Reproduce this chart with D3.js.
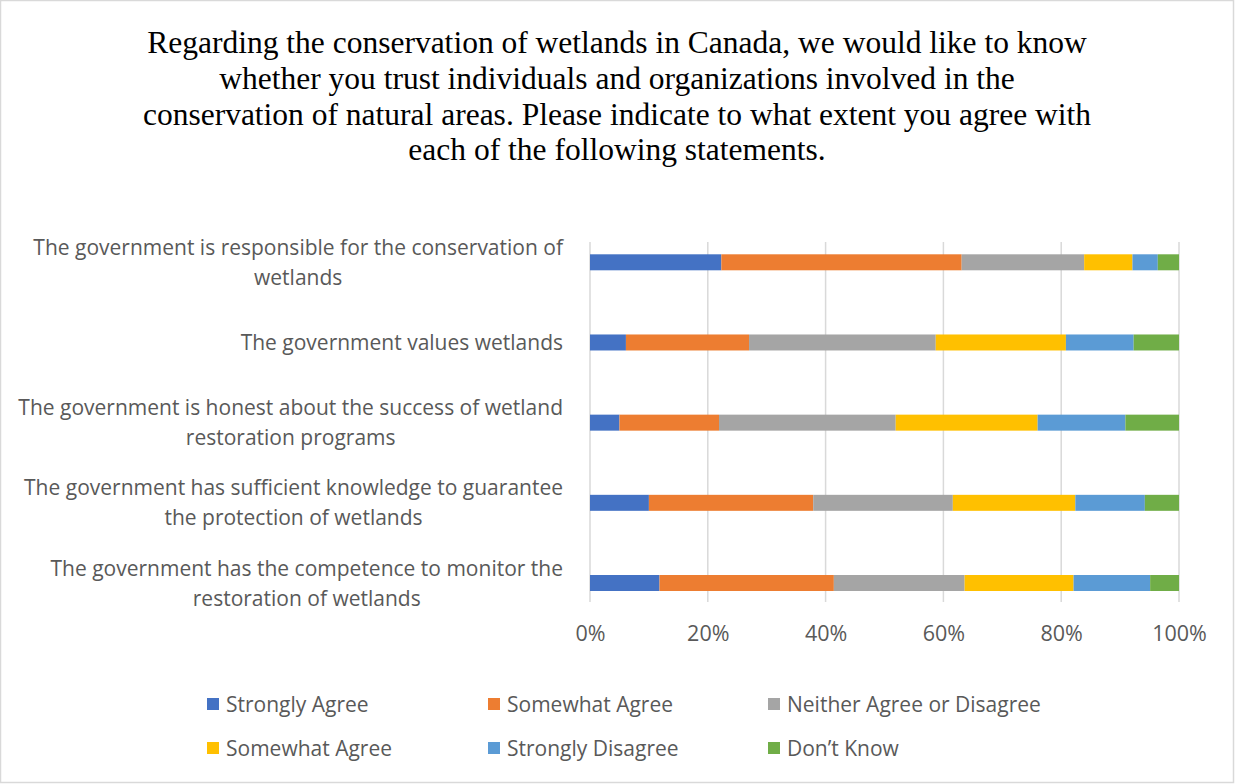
<!DOCTYPE html>
<html>
<head>
<meta charset="utf-8">
<script src="https://cdn.jsdelivr.net/npm/d3@7"></script>
<style>
  html, body { margin: 0; padding: 0; background: #fff; }
  svg { display: block; }
</style>
</head>
<body>
<div id="chart"></div>
<script>
// Statements (top to bottom), each split into its display lines
const statements = [
  ["The government is responsible for the conservation of", "wetlands"],
  ["The government values wetlands"],
  ["The government is honest about the success of wetland", "restoration programs"],
  ["The government has sufficient knowledge to guarantee", "the protection of wetlands"],
  ["The government has the competence to monitor the", "restoration of wetlands"]
];

// Response categories, in stacking order
const responses = ["Strongly Agree", "Somewhat Agree", "Neither Agree or Disagree",
                   "Somewhat Agree", "Strongly Disagree", "Don\u2019t Know"];

// Share of respondents (%) per response, one array per response, statement order as above
const stronglyAgree    = [22.3,  6.1,  5.0, 10.0, 11.8];
const somewhatAgree    = [40.8, 20.9, 16.9, 27.9, 29.6];
const neither          = [20.8, 31.7, 30.0, 23.7, 22.2];
const somewhatAgree2   = [ 8.2, 22.1, 24.1, 20.8, 18.5];
const stronglyDisagree = [ 4.3, 11.5, 14.9, 11.8, 13.0];
const dontKnow         = [ 3.6,  7.7,  9.1,  5.8,  4.9];

const xTicks = [0, 20, 40, 60, 80, 100];

const titleLines = [
  "Regarding the conservation of wetlands in Canada, we would like to know",
  "whether you trust individuals and organizations involved in the",
  "conservation of natural areas. Please indicate to what extent you agree with",
  "each of the following statements."
];

const colors = ["#4472C4", "#ED7D31", "#A5A5A5", "#FFC000", "#5B9BD5", "#70AD47"];

const W = 1235, H = 784;
const svg = d3.select("#chart").append("svg").attr("width", W).attr("height", H);

// outer frame
svg.append("rect").attr("x", 0.5).attr("y", 0.5).attr("width", W - 2).attr("height", H - 2)
  .attr("fill", "#fff").attr("stroke", "#D9D9D9").attr("stroke-width", 1.5);

// title
svg.append("g").selectAll("text").data(titleLines).join("text")
  .attr("x", 617).attr("y", (d, i) => 53 + i * 35.8)
  .attr("text-anchor", "middle")
  .style("font-family", "'Liberation Serif', 'Times New Roman', serif")
  .style("font-size", "31.5px").style("fill", "#000")
  .text(d => d);

// build stacked data
const seriesArrays = [stronglyAgree, somewhatAgree, neither, somewhatAgree2, stronglyDisagree, dontKnow];
const rows = statements.map((s, i) => {
  const r = { id: i };
  seriesArrays.forEach((arr, k) => { r["k" + k] = arr[i]; });
  return r;
});
const keys = seriesArrays.map((_, k) => "k" + k);
const stacked = d3.stack().keys(keys)(rows);

const plotTop = 242, plotBottom = 602;
const x = d3.scaleLinear().domain([0, 100]).range([590, 1179]);
const y = d3.scalePoint().domain(d3.range(statements.length)).range([262.3, 583]);
const barH = 16;

// vertical gridlines
svg.append("g").selectAll("line").data(xTicks).join("line")
  .attr("x1", d => x(d)).attr("x2", d => x(d))
  .attr("y1", plotTop).attr("y2", plotBottom)
  .attr("stroke", "#D9D9D9").attr("stroke-width", 1.5);

// bars
svg.append("g").selectAll("g").data(stacked).join("g")
  .attr("fill", (d, i) => colors[i])
  .selectAll("rect").data(d => d).join("rect")
  .attr("x", d => x(d[0]))
  .attr("width", d => x(d[1]) - x(d[0]))
  .attr("y", d => y(d.data.id) - barH / 2)
  .attr("height", barH);

const labelFont = "'Open Sans', 'Noto Sans', sans-serif";

// x axis tick labels
const xAxis = d3.axisBottom(x).tickValues(xTicks).tickFormat(d => d + "%").tickSize(0).tickPadding(0);
const gx = svg.append("g").attr("transform", `translate(0, ${plotBottom + 24})`).call(xAxis);
gx.select(".domain").remove();
gx.selectAll("text")
  .style("font-family", labelFont)
  .style("font-size", "21.5px").style("fill", "#595959");

// category labels: centred block, right edge aligned to the axis
const labelG = svg.append("g");
statements.forEach((lines, i) => {
  const g = labelG.append("g");
  const lh = 30;
  const texts = g.selectAll("text").data(lines).join("text")
    .attr("y", (d, j) => y(i) + (j - (lines.length - 1) / 2) * lh + 7.5)
    .attr("text-anchor", "middle")
    .style("font-family", labelFont).style("font-size", "21px").style("fill", "#595959")
    .text(d => d);
  let maxW = 0;
  texts.each(function () { maxW = Math.max(maxW, this.getComputedTextLength()); });
  texts.attr("x", 563 - maxW / 2);
});

// legend
const legendCols = [207, 488, 768];
const legendRows = [704, 748];
const lg = svg.append("g").selectAll("g").data(responses).join("g")
  .attr("transform", (d, i) => `translate(${legendCols[i % 3]}, ${legendRows[Math.floor(i / 3)]})`);
lg.append("rect").attr("x", 0).attr("y", -6).attr("width", 12).attr("height", 12)
  .attr("fill", (d, i) => colors[i]);
lg.append("text").attr("x", 19).attr("y", 7.5)
  .style("font-family", labelFont).style("font-size", "21px").style("fill", "#595959")
  .text(d => d);
</script>
</body>
</html>
